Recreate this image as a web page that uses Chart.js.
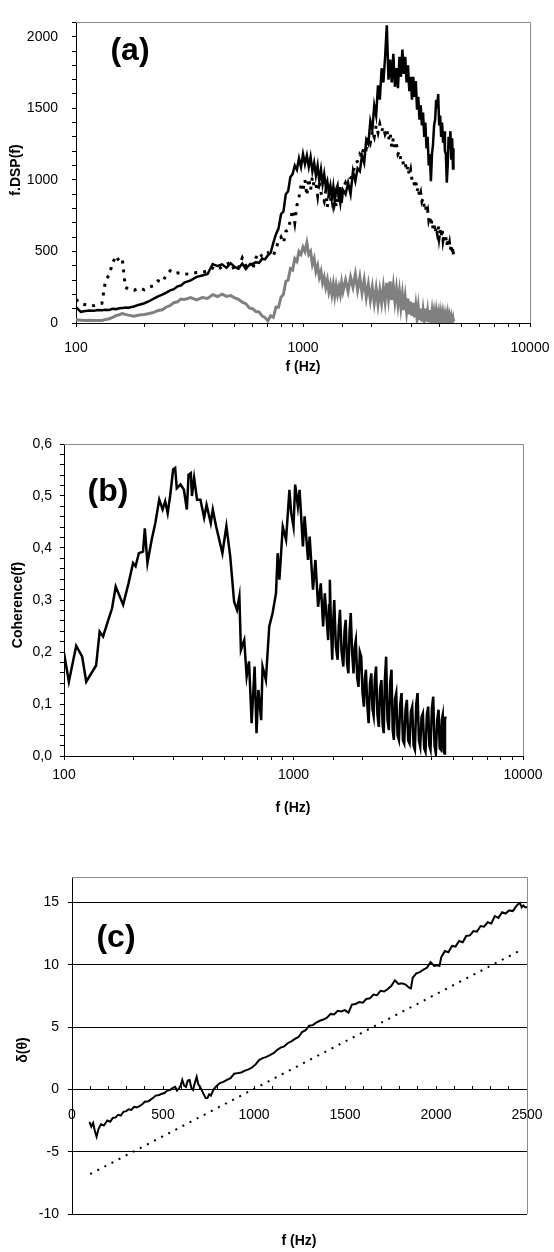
<!DOCTYPE html>
<html>
<head>
<meta charset="utf-8">
<script src="https://cdn.jsdelivr.net/npm/chart.js@4.4.1/dist/chart.umd.min.js"></script>
<style>
    html, body { margin: 0; padding: 0; background: #fff; }
    .panel { position: absolute; left: 0; width: 554px; }
</style>
</head>
<body>
<div class="panel" style="top:0; height:390px"><canvas id="dspChart"></canvas></div>
<div class="panel" style="top:420px; height:400px"><canvas id="cohChart"></canvas></div>
<div class="panel" style="top:860px; height:392px"><canvas id="phaseChart"></canvas></div>
<script>
// (a) frequency grid shared by the three spectra
const dspFreq = [
    100, 105, 110, 115, 120, 125, 130, 135, 140, 145, 150, 155, 160, 165, 170, 180, 190, 200, 210, 220, 230, 240, 250, 260, 270, 280, 290, 300,
    320, 340, 360, 380, 400, 420, 440, 460, 480, 500, 520, 540, 560, 580, 600, 620, 640, 660, 680, 700,
    720, 740, 760, 780, 800, 820, 840, 860, 880, 900, 920, 940, 960, 980, 1000, 1020, 1040, 1060, 1080, 1100,
    1120, 1140, 1160, 1180, 1200, 1220, 1240, 1260, 1280, 1300, 1320, 1340, 1360, 1380, 1400, 1420, 1440, 1460, 1480, 1500,
    1540, 1580, 1620, 1660, 1700, 1740, 1780, 1820, 1860, 1900, 1940, 1980, 2020, 2060, 2100, 2140, 2180, 2220, 2260, 2300,
    2340, 2380, 2420, 2460, 2500, 2540, 2580, 2620, 2660, 2700, 2740, 2780, 2820, 2860, 2900, 2940, 2980, 3020, 3060, 3100,
    3140, 3180, 3220, 3260, 3300, 3340, 3380, 3420, 3460, 3500, 3540, 3580, 3620, 3660, 3700, 3740, 3780, 3820, 3860, 3900,
    3940, 3980, 4020, 4060, 4100, 4140, 4180, 4220, 4260, 4300, 4340, 4380, 4420, 4460, 4500, 4540, 4580, 4600
];
const dspSolid = [
    110, 78, 84, 88, 86, 90, 89, 93, 91, 99, 97, 103, 104, 108, 106, 115, 128, 138, 152, 170, 186, 198, 212, 228, 236, 256, 262, 282,
    298, 322, 332, 342, 412, 398, 410, 385, 418, 392, 380, 415, 378, 405, 412, 425, 420, 448, 445, 472,
    490, 560, 620, 660, 760, 780, 900, 920, 1020, 1040, 1100, 1070, 1150, 1090, 1180, 1110, 1170, 1090, 1160, 1060,
    1120, 1030, 1100, 990, 1070, 970, 1040, 950, 990, 910, 960, 870, 950, 850, 930, 960, 850, 950, 840, 930,
    900, 980, 900, 1060, 990, 1080, 1060, 1170, 1120, 1280, 1250, 1410, 1350, 1520, 1450, 1660, 1560, 1780, 1680, 1860,
    2080, 1700, 1840, 1680, 1880, 1650, 1780, 1640, 1860, 1720, 1910, 1740, 1860, 1680, 1800, 1620, 1720, 1560, 1720, 1580,
    1690, 1490, 1580, 1420, 1520, 1380, 1470, 1300, 1400, 1220, 1300, 1100, 1180, 990, 1180, 1250, 1380, 1420, 1560, 1500,
    1600, 1380, 1450, 1300, 1400, 1260, 1340, 1200, 1180, 980, 1100, 1300, 1220, 1340, 1140, 1290, 1080, 1220
];
const dspDotted = [
    165, 135, 128, 118, 122, 130, 138, 300, 335, 420, 470, 430, 445, 250, 235, 228, 245, 232, 250, 262, 295, 285, 335, 365, 345, 350, 345, 340,
    345, 352, 355, 362, 385, 370, 395, 410, 425, 365, 385, 455, 400, 430, 375, 455, 490, 465, 470, 490,
    465, 470, 520, 570, 600, 560, 640, 650, 720, 790, 700, 820, 880, 960, 930, 1000, 890, 1010, 930, 1020,
    950, 970, 890, 990, 910, 880, 850, 920, 810, 890, 850, 910, 830, 890, 810, 890, 910, 850, 930, 940,
    980, 940, 1010, 1040, 1120, 1130, 1180, 1160, 1240, 1220, 1300, 1260, 1340, 1300, 1380, 1330, 1390, 1340, 1370, 1320,
    1350, 1280, 1330, 1230, 1290, 1220, 1250, 1180, 1200, 1130, 1140, 1100, 1120, 1060, 1100, 1030, 1070, 1000, 1010, 960,
    990, 920, 950, 880, 910, 850, 870, 810, 830, 770, 790, 720, 750, 680, 720, 660, 690, 630, 670, 630,
    680, 600, 650, 600, 660, 580, 620, 570, 600, 540, 590, 530, 560, 510, 550, 480, 530, 470
];
const dspGray = [
    22, 20, 18, 19, 17, 18, 17, 24, 30, 40, 52, 58, 66, 60, 55, 48, 56, 60, 66, 74, 88, 92, 112, 122, 142, 148, 168, 165,
    178, 162, 178, 172, 198, 185, 202, 186, 192, 176, 165, 145, 135, 105, 100, 80, 78, 50, 38, 15,
    50, 40, 110, 110, 180, 200, 290, 300, 380, 370, 450, 430, 500, 480, 530, 500, 560, 480, 500, 410,
    450, 360, 400, 320, 360, 280, 320, 250, 300, 220, 270, 200, 270, 190, 260, 200, 250, 200, 280, 220,
    300, 220, 320, 250, 340, 230, 320, 210, 300, 180, 270, 160, 250, 140, 240, 130, 230, 140, 250, 150,
    280, 170, 290, 160, 260, 150, 240, 130, 220, 110, 200, 90, 180, 80, 170, 60, 150, 50, 140, 40,
    120, 30, 110, 20, 100, 10, 90, 20, 100, 10, 80, 5, 90, 15, 80, 5, 70, 10, 75, 5,
    60, 0, 65, 5, 60, 0, 55, 5, 50, 0, 55, 0, 45, 5, 40, 0, 30, 10
];
const dspTickLabels = [100, 1000, 10000];

// (b) coherence
const cohFreq = [
    100, 105, 113, 120, 125, 138, 143, 148, 156, 162, 168, 181, 191, 200, 205, 212, 221, 225, 231, 241,
    250, 260, 269, 276, 283, 290, 299, 305, 310, 322, 333, 343, 349, 357, 361, 369, 380, 393, 408, 418,
    436, 445, 460, 490, 510, 530, 551, 567, 581, 590, 610, 625, 640, 657, 677, 690, 703, 723, 733, 758,
    784, 811, 839, 853, 868, 898, 928, 960, 977, 1000, 1017, 1045, 1063, 1099, 1118, 1157, 1176, 1216, 1246, 1280,
    1315, 1346, 1369, 1416, 1428, 1440, 1458, 1475, 1490, 1505, 1530, 1557, 1575, 1594, 1620, 1649, 1668, 1688, 1710, 1734,
    1755, 1776, 1800, 1826, 1848, 1869, 1895, 1920, 1946, 1973, 2000, 2027, 2048, 2068, 2096, 2125, 2154, 2183, 2209, 2235,
    2262, 2290, 2321, 2353, 2385, 2417, 2445, 2473, 2503, 2533, 2568, 2603, 2638, 2673, 2705, 2737, 2770, 2803, 2841, 2879,
    2918, 2957, 2997, 3037, 3078, 3119, 3161, 3204, 3247, 3291, 3335, 3380, 3426, 3472, 3519, 3566, 3614, 3662, 3711, 3761,
    3812, 3863, 3908, 3954, 4008, 4062, 4117, 4172, 4229, 4286, 4337, 4389, 4430, 4470, 4508, 4545, 4572, 4600
];
const cohValue = [
    0.198, 0.143, 0.212, 0.191, 0.143, 0.174, 0.239, 0.230, 0.262, 0.284, 0.326, 0.291, 0.332, 0.371, 0.365, 0.390, 0.393, 0.438, 0.371, 0.416,
    0.448, 0.493, 0.474, 0.490, 0.467, 0.500, 0.551, 0.554, 0.515, 0.522, 0.512, 0.474, 0.541, 0.544, 0.500, 0.535, 0.493, 0.493, 0.458, 0.483,
    0.448, 0.474, 0.442, 0.390, 0.442, 0.384, 0.297, 0.281, 0.307, 0.204, 0.223, 0.153, 0.182, 0.063, 0.172, 0.044, 0.127, 0.069, 0.172, 0.146,
    0.249, 0.275, 0.313, 0.390, 0.339, 0.441, 0.416, 0.512, 0.467, 0.441, 0.522, 0.480, 0.512, 0.403, 0.461, 0.377, 0.422, 0.320, 0.377, 0.287,
    0.332, 0.249, 0.313, 0.223, 0.290, 0.339, 0.240, 0.185, 0.260, 0.300, 0.210, 0.185, 0.250, 0.281, 0.200, 0.172, 0.240, 0.262, 0.180, 0.159,
    0.240, 0.275, 0.200, 0.159, 0.210, 0.223, 0.150, 0.133, 0.200, 0.191, 0.120, 0.095, 0.150, 0.166, 0.100, 0.063, 0.140, 0.159, 0.090, 0.077,
    0.150, 0.172, 0.080, 0.056, 0.130, 0.146, 0.060, 0.044, 0.150, 0.191, 0.070, 0.050, 0.140, 0.166, 0.050, 0.031, 0.110, 0.121, 0.040, 0.031,
    0.100, 0.121, 0.030, 0.024, 0.090, 0.108, 0.030, 0.024, 0.085, 0.095, 0.020, 0.012, 0.100, 0.121, 0.030, 0.018, 0.075, 0.082, 0.015, 0.008,
    0.080, 0.095, 0.020, 0.012, 0.090, 0.114, 0.020, 0.005, 0.070, 0.089, 0.015, 0.012, 0.070, 0.079, 0.010, 0.005, 0.070, 0.076
];
const cohTickLabels = [100, 1000, 10000];

// (c) phase difference
const phaseFreq = [
    96, 106, 116, 125, 135, 145, 159, 175, 194, 210, 224, 240, 253, 268, 283, 298, 312, 326, 341, 356,
    371, 386, 400, 420, 440, 460, 479, 494, 508, 523, 538, 552, 567, 577, 587, 597, 606, 616, 626, 636,
    646, 656, 665, 675, 685, 694, 704, 714, 724, 734, 744, 754, 763, 778, 793, 812, 832, 851, 871, 891,
    911, 930, 950, 970, 989, 1009, 1028, 1048, 1068, 1088, 1107, 1127, 1146, 1166, 1185, 1205, 1225, 1245, 1264, 1284,
    1303, 1323, 1342, 1362, 1381, 1401, 1421, 1440, 1460, 1480, 1499, 1519, 1538, 1558, 1578, 1598, 1617, 1637, 1656, 1676,
    1695, 1715, 1735, 1755, 1774, 1794, 1813, 1833, 1852, 1862, 1872, 1892, 1911, 1931, 1950, 1970, 1990, 2009, 2019, 2029,
    2049, 2068, 2088, 2107, 2127, 2147, 2166, 2186, 2206, 2225, 2245, 2264, 2284, 2304, 2323, 2343, 2363, 2382, 2402, 2422,
    2441, 2451, 2461, 2471, 2480, 2490, 2500
];
const phaseValue = [
    -2.6, -3.0, -2.7, -3.3, -3.8, -3.2, -2.8, -2.9, -2.5, -2.6, -2.3, -2.25, -2.05, -2.1, -1.8, -1.75, -1.6, -1.65, -1.4, -1.45,
    -1.35, -1.2, -1.0, -0.95, -0.75, -0.5, -0.45, -0.35, -0.3, -0.1, -0.05, 0.1, 0.2, -0.1, 0.05, 0.3, 0.75, 0.3, 0.2, 0.7,
    0.75, 0.1, -0.05, 0.5, 1.0, 0.4, 0.2, -0.1, -0.4, -0.7, -0.7, -0.4, -0.5, 0.0, 0.25, 0.5, 0.6, 0.75, 0.9, 1.25,
    1.3, 1.35, 1.5, 1.6, 1.75, 2.0, 2.35, 2.5, 2.6, 2.75, 2.9, 3.15, 3.35, 3.45, 3.7, 3.85, 4.05, 4.2, 4.6, 4.75,
    5.1, 5.15, 5.35, 5.5, 5.6, 5.75, 6.05, 6.0, 6.3, 6.25, 6.35, 6.15, 6.8, 6.85, 7.0, 6.95, 7.25, 7.3, 7.6, 7.55,
    7.9, 7.85, 8.05, 8.3, 8.75, 8.45, 8.5, 8.4, 8.15, 8.1, 8.95, 9.3, 9.4, 9.6, 9.75, 10.2, 9.9, 9.95, 9.9, 10.6,
    11.1, 11.0, 11.5, 11.45, 11.9, 11.8, 12.3, 12.35, 12.7, 12.65, 13.1, 13.05, 13.4, 13.3, 13.9, 13.75, 14.2, 14.1, 14.35, 14.3,
    14.7, 14.85, 14.95, 14.6, 14.75, 14.6, 14.6
];
const phaseFitFreq = [100, 2470];
const phaseFit = [-6.8, 11.2];

Chart.defaults.font.family = "'Liberation Sans', Arial, sans-serif";
Chart.defaults.font.size = 14;
Chart.defaults.color = '#000';

const toPoints = (xs, ys) => xs.map((x, i) => ({ x: x, y: ys[i] }));

// keep the plot box where it is, whatever the edge labels want
const noEdgePadding = s => { s.paddingLeft = 0; s.paddingRight = 0; };

// grey top/right frame and free text (panel letter, axis titles)
const framePlugin = {
    id: 'frame',
    beforeDatasetsDraw(chart, args, opts) {
        const { ctx, chartArea: a } = chart;
        ctx.save();
        ctx.strokeStyle = '#8a8a8a';
        ctx.lineWidth = 1;
        ctx.beginPath();
        ctx.moveTo(a.left, Math.round(a.top) + 0.5);
        ctx.lineTo(Math.round(a.right) + 0.5, Math.round(a.top) + 0.5);
        ctx.lineTo(Math.round(a.right) + 0.5, a.bottom);
        ctx.stroke();
        ctx.restore();
    },
    afterDraw(chart, args, opts) {
        const ctx = chart.ctx;
        (opts.texts || []).forEach(t => {
            ctx.save();
            ctx.font = t.font;
            ctx.fillStyle = '#000';
            ctx.textAlign = 'center';
            ctx.textBaseline = 'middle';
            ctx.translate(t.x, t.y);
            if (t.rotate) ctx.rotate(-Math.PI / 2);
            ctx.fillText(t.text, 0, 0);
            ctx.restore();
        });
    }
};

const titleFont = "bold 14px 'Liberation Sans', Arial, sans-serif";
const letterFont = "bold 32px 'Liberation Sans', Arial, sans-serif";

// ---------- (a) ----------
const dspConfig = {
    type: 'line',
    data: {
        datasets: [{
            data: toPoints(dspFreq, dspSolid),
            borderColor: '#000',
            borderWidth: 2.5,
            pointRadius: 0,
        }, {
            data: toPoints(dspFreq, dspDotted),
            borderColor: '#000',
            borderWidth: 3,
            borderDash: [3, 6],
            pointRadius: 0,
        }, {
            data: toPoints(dspFreq, dspGray),
            borderColor: '#808080',
            borderWidth: 3,
            pointRadius: 0,
        }]
    },
    options: {
        responsive: true,
        maintainAspectRatio: false,
        animation: false,
        layout: { padding: { top: 3, right: 24, left: 0, bottom: 0 } },
        scales: {
            x: {
                type: 'logarithmic',
                min: 100,
                max: 10000,
                afterFit: s => { s.height = 67; noEdgePadding(s); },
                border: { color: '#000' },
                grid: { drawOnChartArea: false, tickLength: 4, color: '#000' },
                ticks: {
                    autoSkip: false, maxRotation: 0, padding: 13,
                    callback: v => dspTickLabels.includes(v) ? String(v) : ''
                }
            },
            y: {
                min: 0,
                max: 2100,
                afterFit: s => { s.width = 76; },
                border: { color: '#000' },
                grid: { drawOnChartArea: false, tickLength: 4, color: '#000' },
                ticks: {
                    stepSize: 100, padding: 14, autoSkip: false,
                    callback: v => v % 500 === 0 ? String(v) : ''
                }
            }
        },
        plugins: {
            legend: { display: false },
            tooltip: { enabled: false },
            frame: {
                texts: [
                    { text: '(a)', x: 130, y: 51, font: letterFont },
                    { text: 'f.DSP(f)', x: 16, y: 170, font: titleFont, rotate: true },
                    { text: 'f (Hz)', x: 303, y: 367, font: titleFont }
                ]
            }
        }
    },
    plugins: [framePlugin]
};
new Chart(document.getElementById('dspChart').getContext('2d'), dspConfig);

// ---------- (b) ----------
const cohConfig = {
    type: 'line',
    data: {
        datasets: [{
            data: toPoints(cohFreq, cohValue),
            borderColor: '#000',
            borderWidth: 2.5,
            pointRadius: 0,
        }]
    },
    options: {
        responsive: true,
        maintainAspectRatio: false,
        animation: false,
        layout: { padding: { top: 24, right: 31, left: 0, bottom: 0 } },
        scales: {
            x: {
                type: 'logarithmic',
                min: 100,
                max: 10000,
                afterFit: s => { s.height = 64; noEdgePadding(s); },
                border: { color: '#000' },
                grid: { drawOnChartArea: false, tickLength: 4, color: '#000' },
                ticks: {
                    autoSkip: false, maxRotation: 0, padding: 7,
                    callback: v => cohTickLabels.includes(v) ? String(v) : ''
                }
            },
            y: {
                min: 0,
                max: 0.6,
                afterFit: s => { s.width = 64; },
                border: { color: '#000' },
                grid: { drawOnChartArea: false, tickLength: 4, color: '#000' },
                ticks: {
                    stepSize: 0.02, padding: 8, autoSkip: false,
                    callback: v => {
                        const t = Math.round(v * 100);
                        return t % 10 === 0 ? (t / 100).toFixed(1).replace('.', ',') : '';
                    }
                }
            }
        },
        plugins: {
            legend: { display: false },
            tooltip: { enabled: false },
            frame: {
                texts: [
                    { text: '(b)', x: 108, y: 72, font: letterFont },
                    { text: 'Coherence(f)', x: 18, y: 185, font: titleFont, rotate: true },
                    { text: 'f (Hz)', x: 293, y: 388, font: titleFont }
                ]
            }
        }
    },
    plugins: [framePlugin]
};
new Chart(document.getElementById('cohChart').getContext('2d'), cohConfig);

// ---------- (c) ----------
const phaseConfig = {
    type: 'line',
    data: {
        datasets: [{
            data: toPoints(phaseFreq, phaseValue),
            borderColor: '#000',
            borderWidth: 2,
            pointRadius: 0,
        }, {
            data: toPoints(phaseFitFreq, phaseFit),
            borderColor: '#000',
            borderWidth: 2,
            borderDash: [2, 6],
            pointRadius: 0,
        }]
    },
    options: {
        responsive: true,
        maintainAspectRatio: false,
        animation: false,
        layout: { padding: { top: 15, right: 27, left: 0, bottom: 38 } },
        scales: {
            x: {
                type: 'linear',
                min: 0,
                max: 2500,
                position: { y: 0 },
                afterFit: noEdgePadding,
                border: { color: '#000' },
                grid: { drawOnChartArea: false, tickLength: -4, color: '#000' },
                ticks: {
                    stepSize: 100, autoSkip: false, maxRotation: 0, padding: 21,
                    callback: v => v % 500 === 0 ? String(v) : ''
                }
            },
            y: {
                min: -10,
                max: 17,
                afterFit: s => { s.width = 72; },
                border: { color: '#000' },
                grid: { tickLength: 4, color: '#000' },
                ticks: { stepSize: 5, includeBounds: false, padding: 9 }
            }
        },
        plugins: {
            legend: { display: false },
            tooltip: { enabled: false },
            frame: {
                texts: [
                    { text: '(c)', x: 116, y: 78, font: letterFont },
                    { text: 'δ(θ)', x: 23, y: 190, font: titleFont, rotate: true },
                    { text: 'f (Hz)', x: 299, y: 381, font: titleFont }
                ]
            }
        }
    },
    plugins: [framePlugin]
};
new Chart(document.getElementById('phaseChart').getContext('2d'), phaseConfig);
</script>
</body>
</html>
